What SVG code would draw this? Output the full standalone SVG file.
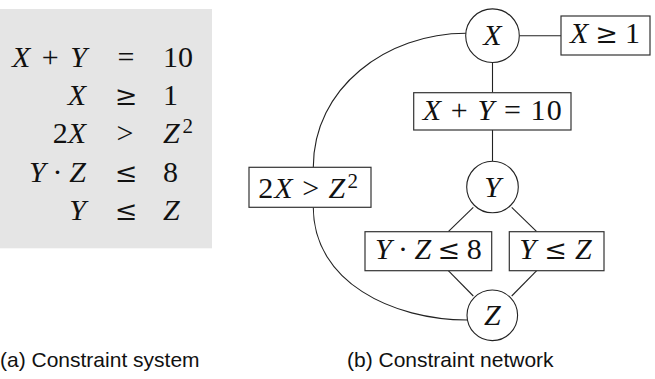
<svg xmlns="http://www.w3.org/2000/svg" width="655" height="379" viewBox="0 0 655 379">
<style>
.m{font-family:"Liberation Serif","Times New Roman",serif;font-size:30px;fill:#111}
.i{font-style:italic}
.r{font-family:"DejaVu Serif",serif;font-size:27px}
.sup{font-size:21px}
.cap{font-family:"Liberation Sans",Arial,sans-serif;font-size:21px;fill:#111}
.node circle{fill:#fff;stroke:#222;stroke-width:1.1}
.node rect{fill:#fff;stroke:#333;stroke-width:1.2}
.c{fill:none;stroke:#222;stroke-width:1.1}
.mid{text-anchor:middle}
.end{text-anchor:end}
</style>
<rect x="0" y="9" width="212" height="239.3" fill="#e5e5e5"/>
<g id="system">
<text class="m end" x="87" y="66.5" textLength="75" lengthAdjust="spacing"><tspan class="i">X</tspan> + <tspan class="i">Y</tspan></text>
<text class="m mid" x="126" y="66.5">=</text>
<text class="m" x="163" y="66.5">10</text>
<text class="m end i" x="86" y="104.5">X</text>
<text class="m mid r" x="126" y="104.5">≥</text>
<text class="m" x="163" y="104.5">1</text>
<text class="m end" x="86" y="143">2<tspan class="i">X</tspan></text>
<text class="m mid" x="125" y="143">&gt;</text>
<text class="m" x="163" y="143"><tspan class="i">Z</tspan><tspan class="sup" x="182.5" y="133">2</tspan></text>
<text class="m end" x="86" y="181.5" textLength="57" lengthAdjust="spacing"><tspan class="i">Y</tspan> · <tspan class="i">Z</tspan></text>
<text class="m mid r" x="126" y="181.5">≤</text>
<text class="m" x="163" y="181.5">8</text>
<text class="m end i" x="86" y="220">Y</text>
<text class="m mid r" x="126" y="220">≤</text>
<text class="m i" x="163" y="220">Z</text>
</g>
<g id="connectors">
<line class="c" x1="519.5" y1="35.7" x2="561" y2="35.7"/>
<line class="c" x1="492.5" y1="62.5" x2="492.5" y2="92.7"/>
<line class="c" x1="492.5" y1="130" x2="492.5" y2="161"/>
<line class="c" x1="473.3" y1="207.3" x2="448.3" y2="231.7"/>
<line class="c" x1="511.7" y1="207.3" x2="536.7" y2="231.7"/>
<line class="c" x1="448.3" y1="270.7" x2="473.3" y2="296"/>
<line class="c" x1="536.7" y1="270.7" x2="511.7" y2="296"/>
<path class="c" d="M466,33.3 C386.5,33.3 313.3,87.8 313.3,167.3"/>
<path class="c" d="M313.3,207.3 C313.3,282 392.6,320 467.3,320"/>
</g>
<g id="nX" class="node"><circle cx="492.5" cy="35.7" r="26.8"/><text class="m i mid" x="492.5" y="45">X</text></g>
<g id="nXge1" class="node"><rect x="561" y="16" width="89" height="39"/><text class="m mid" x="605" y="43.3" textLength="70" lengthAdjust="spacing"><tspan class="i">X</tspan> <tspan class="r">≥</tspan> 1</text></g>
<g id="nXY10" class="node"><rect x="413.7" y="92.7" width="157.3" height="37.3"/><text class="m mid" x="492.2" y="120" textLength="139" lengthAdjust="spacing"><tspan class="i">X</tspan> + <tspan class="i">Y</tspan> = 10</text></g>
<g id="nY" class="node"><circle cx="492.5" cy="187" r="25.8"/><text class="m i mid" x="492.5" y="196.5">Y</text></g>
<g id="n2XZ2" class="node"><rect x="249" y="167.3" width="122" height="40"/><text class="m" x="258.3" y="198.3" textLength="87" lengthAdjust="spacing">2<tspan class="i">X</tspan> &gt; <tspan class="i">Z</tspan></text><text class="m sup" x="347.5" y="188.3">2</text></g>
<g id="nYZ8" class="node"><rect x="365" y="231.7" width="126.7" height="39"/><text class="m mid" x="428.3" y="259.3" textLength="106.7" lengthAdjust="spacing"><tspan class="i">Y</tspan> · <tspan class="i">Z</tspan> <tspan class="r">≤</tspan> 8</text></g>
<g id="nYleZ" class="node"><rect x="509.3" y="231.7" width="94.7" height="39"/><text class="m mid" x="555.5" y="259.3" textLength="72.4" lengthAdjust="spacing"><tspan class="i">Y</tspan> <tspan class="r">≤</tspan> <tspan class="i">Z</tspan></text></g>
<g id="nZ" class="node"><circle cx="492.3" cy="315.3" r="25.3"/><text class="m i mid" x="492.3" y="325">Z</text></g>
<text class="cap" x="0" y="367">(a) Constraint system</text>
<text class="cap" x="347" y="367">(b) Constraint network</text>
</svg>
